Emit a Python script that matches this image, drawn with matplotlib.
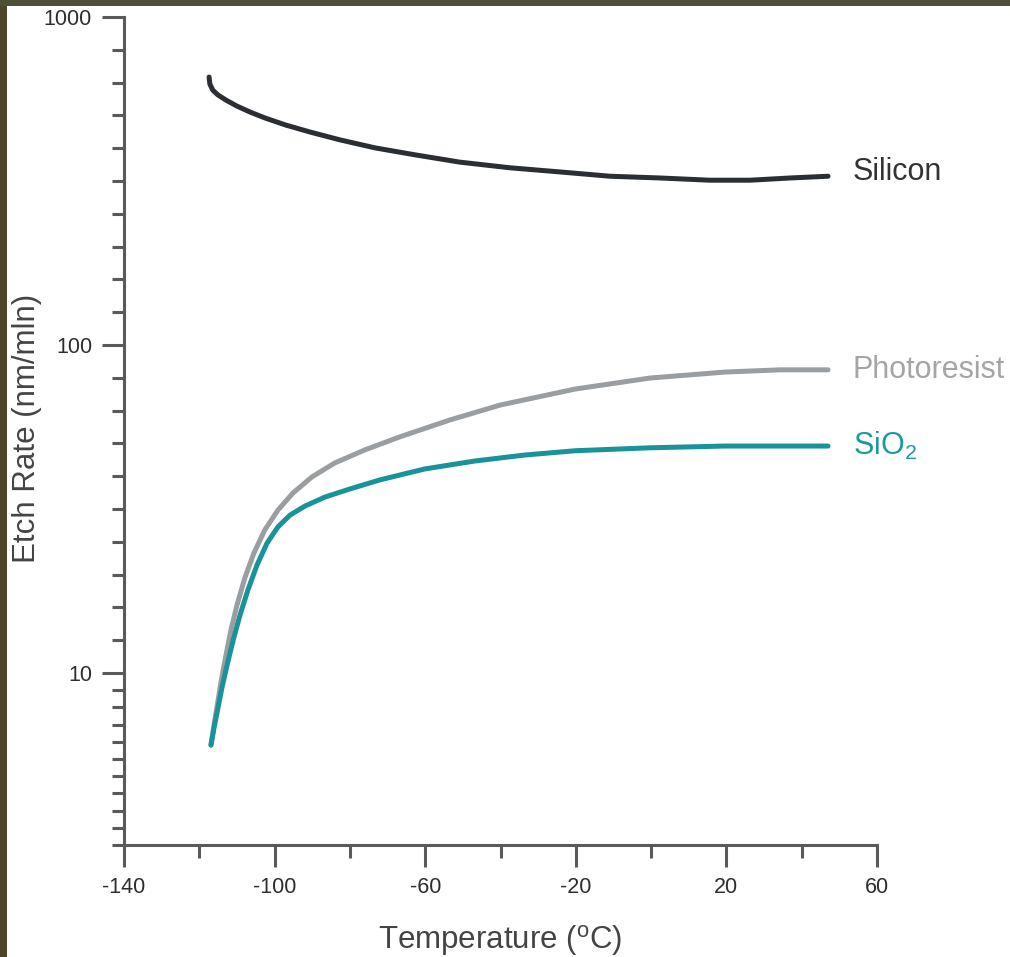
import numpy as np
import matplotlib
matplotlib.use("Agg")
import matplotlib.pyplot as plt
from matplotlib.patches import Rectangle
from matplotlib.ticker import FixedLocator, NullFormatter

plt.rcParams['font.family'] = ['Liberation Sans', 'DejaVu Sans']
plt.rcParams['mathtext.fontset'] = 'custom'
plt.rcParams['mathtext.rm'] = 'Liberation Sans'
plt.rcParams['mathtext.it'] = 'Liberation Sans'

# ---- data (temperature in °C, etch rate in nm/min) ----
si_temp = [-117.4, -117.2, -116.4, -115.0, -112.9, -110.0, -106.5, -102.5, -97.2, -90.6,
           -82.6, -73.3, -62.7, -50.8, -37.5, -24.2, -10.9, 2.4, 15.6, 26.3, 36.9, 47]
si_rate = [656, 625, 598, 578, 558, 535, 513, 492, 469, 446,
           422, 399, 380, 361, 347, 337, 327, 323, 318, 318, 323, 327]

pr_temp = [-116.9, -116.1, -115.0, -114.0, -112.9, -111.6, -110.0, -107.9, -105.5, -102.6,
           -99.1, -95.1, -90.1, -84.0, -76.0, -66.7, -53.4, -40.1, -20.2, -0.3, 19.6, 34.2, 47]
pr_rate = [6.03, 6.94, 8.28, 9.73, 11.35, 13.5, 16.1, 19.5, 23.2, 27.3,
           31.4, 35.4, 39.6, 43.7, 47.9, 52.5, 59.1, 65.6, 73.4, 79.3, 82.7, 84.0, 84.0]

sio2_temp = [-116.9, -116.1, -115.0, -114.0, -112.6, -111.0, -109.2, -107.1, -104.7, -102.0,
             -99.1, -95.9, -91.9, -86.6, -80.0, -72.0, -60.1, -46.8, -33.5, -20.2, -0.3,
             19.6, 34.2, 47]
sio2_rate = [6.03, 6.79, 7.87, 9.00, 10.6, 12.6, 15.0, 17.9, 21.3, 24.9,
             27.9, 30.3, 32.3, 34.4, 36.4, 38.8, 41.9, 44.3, 46.2, 47.6, 48.6,
             49.2, 49.2, 49.2]

series_labels = ["Silicon", "Photoresist", "SiO$_{\\mathrm{2}}$"]
label_rate = [318, 79.3, 46.2]
label_temp = 53.6

x_major = [-140, -100, -60, -20, 20, 60]
x_minor = [-120, -80, -40, 0, 40]
y_major = [10, 100, 1000]
y_major_labels = ["10", "100", "1000"]

c_si = '#2b2f33'
c_pr = '#9a9ea1'
c_sio2 = '#18939a'
label_colors = ['#333333', '#a3a5a7', '#1a9aa0']

W, H = 1010, 957
fig = plt.figure(figsize=(W / 100, H / 100), dpi=100)
fig.patch.set_facecolor('white')

ax = fig.add_axes([124 / W, 1 - 845 / H, (877 - 124) / W, (845 - 17) / H])
ax.set_yscale('log')

lw = 3.6
for xs, ys, c in [(si_temp, si_rate, c_si), (pr_temp, pr_rate, c_pr), (sio2_temp, sio2_rate, c_sio2)]:
    ax.plot(xs, ys, color=c, lw=lw, solid_capstyle='round', solid_joinstyle='round')

ax.set_xlim(-140, 60)
ax.set_ylim(2.99, 1000)

for s in ['top', 'right']:
    ax.spines[s].set_visible(False)
for s in ['left', 'bottom']:
    ax.spines[s].set_color('#5a5a5a')
    ax.spines[s].set_linewidth(2.2)

ax.xaxis.set_major_locator(FixedLocator(x_major))
ax.xaxis.set_minor_locator(FixedLocator(x_minor))
ax.set_xticklabels([str(v) for v in x_major])
ax.xaxis.set_minor_formatter(NullFormatter())

ymin_ticks = list(10 ** (1 + np.arange(1, 10) / 10)) + list(10 ** (2 + np.arange(1, 10) / 10)) \
    + list(np.logspace(np.log10(2.99), 1, 11)[:-1])
ax.yaxis.set_major_locator(FixedLocator(y_major))
ax.yaxis.set_minor_locator(FixedLocator(ymin_ticks))
ax.set_yticklabels(y_major_labels)
ax.yaxis.set_minor_formatter(NullFormatter())

ax.tick_params(which='major', length=16, width=2.2, color='#5a5a5a', direction='out',
               labelsize=15.5, labelcolor='#2e2e2e', pad=7)
ax.tick_params(which='minor', length=9, width=2.2, color='#5a5a5a', direction='out')

for t, r, c in zip(series_labels, label_rate, label_colors):
    ax.text(label_temp, r, t, color=c, fontsize=22, ha='left', va='baseline', clip_on=False)

fig.text(500 / W, 1 - 940 / H, "Temperature ($^{\\mathrm{o}}$C)", fontsize=22.5,
         color='#444444', ha='center', va='center')
fig.text(27 / W, 1 - 428 / H, "Etch Rate (nm/mln)", fontsize=22.5, color='#444444',
         ha='center', va='center', rotation=90)

# dark frame strips at left and top (from the screenshot)
fig.add_artist(Rectangle((0, 0), 7 / W, 1, transform=fig.transFigure, color='#4e4429', lw=0))
fig.add_artist(Rectangle((0, 1 - 6 / H), 1, 6 / H, transform=fig.transFigure, color='#4f4f38', lw=0))

fig.savefig('out.png', dpi=100)
